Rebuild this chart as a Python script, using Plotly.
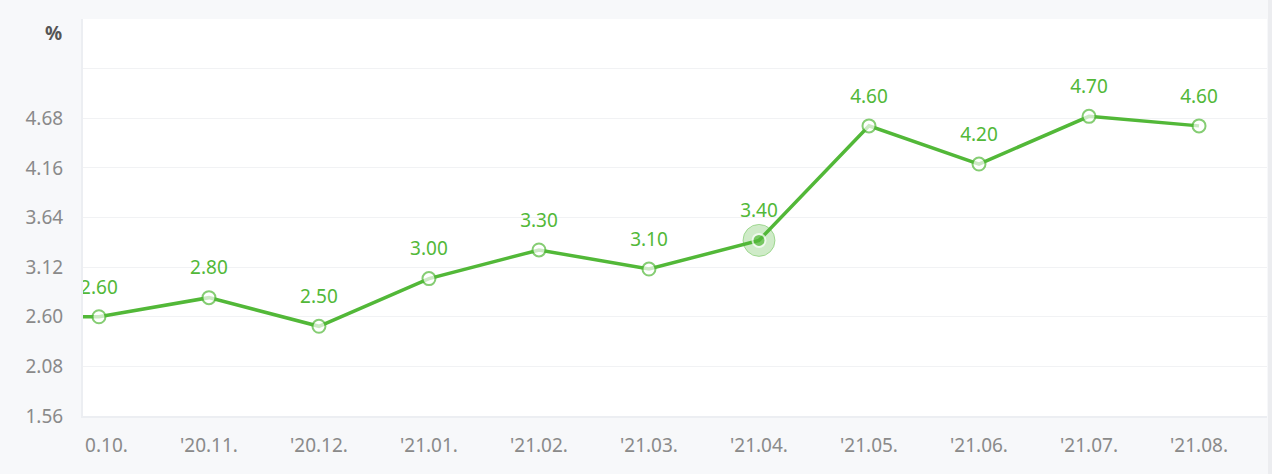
import plotly.graph_objects as go

# ---- data ----
months = ["'20.09.", "'20.10.", "'20.11.", "'20.12.", "'21.01.", "'21.02.",
          "'21.03.", "'21.04.", "'21.05.", "'21.06.", "'21.07.", "'21.08."]
rates = [2.60, 2.60, 2.80, 2.50, 3.00, 3.30, 3.10, 3.40, 4.60, 4.20, 4.70, 4.60]
y_tick_vals = [1.56, 2.08, 2.60, 3.12, 3.64, 4.16, 4.68, 5.20, 5.72]
y_tick_text = ["1.56", "2.08", "2.60", "3.12", "3.64", "4.16", "4.68", "", ""]
highlight = "'21.04."
unit_label = "%"

GREEN = "#52b838"
FONT = "Noto Sans"
FS = 19

hi_idx = months.index(highlight)
marker_fill = ["white"] * len(months)
marker_edge = [GREEN] * len(months)
marker_size = [13] * len(months)
marker_fill[hi_idx] = GREEN
marker_edge[hi_idx] = "white"
marker_size[hi_idx] = 13

fig = go.Figure()

# halo around highlighted point
fig.add_trace(go.Scatter(
    x=[months[hi_idx]], y=[rates[hi_idx]], mode="markers",
    marker=dict(size=32, color="rgba(82,184,56,0.28)",
                line=dict(color="rgba(82,184,56,0.45)", width=1)),
    hoverinfo="skip", showlegend=False))

# main line with markers
fig.add_trace(go.Scatter(
    x=months, y=rates, mode="lines+markers",
    line=dict(color=GREEN, width=3.5),
    marker=dict(size=marker_size, color=marker_fill,
                line=dict(color=marker_edge, width=2)),
    showlegend=False))

# value labels (skip the off-screen first point)
fig.add_trace(go.Scatter(
    x=months[1:], y=rates[1:], mode="markers+text",
    text=[f"{v:.2f}" for v in rates[1:]], textposition="top center",
    textfont=dict(family=FONT, size=FS, color=GREEN),
    marker=dict(size=28, color="rgba(0,0,0,0)"),
    hoverinfo="skip", showlegend=False, cliponaxis=True))

fig.update_layout(
    width=1272, height=474,
    margin=dict(l=83, r=5, t=19, b=58),
    paper_bgcolor="#f7f8fa", plot_bgcolor="white",
    font=dict(family=FONT, size=FS, color="#8a8a8a"),
    xaxis=dict(type="category", categoryorder="array", categoryarray=months,
               range=[0.855, 11.618],
               showgrid=False, zeroline=False,
               showline=True, linecolor="#eceef2", linewidth=2,
               ticks="", ticklabelstandoff=11,
               tickfont=dict(family=FONT, size=FS, color="#8a8a8a")),
    yaxis=dict(range=[1.56, 5.72], tickvals=y_tick_vals, ticktext=y_tick_text,
               showgrid=True, gridcolor="#f1f2f4", gridwidth=1,
               zeroline=False, showline=True, linecolor="#eceef2", linewidth=2,
               ticks="", ticklabelstandoff=14,
               tickfont=dict(family=FONT, size=FS, color="#8a8a8a")),
    hovermode=False,
)

W = 1272 - 83 - 5
H = 474 - 19 - 58
# cover the part of the first x label that falls left of the scroll area
fig.add_shape(type="rect", xref="paper", yref="paper",
              x0=(55 - 83) / W, x1=(85 - 83) / W,
              y0=(416 - 474) / H, y1=(416 - 424) / H,
              fillcolor="#f7f8fa", line=dict(width=0), layer="above")
# right scrollbar strip
fig.add_shape(type="rect", xref="paper", yref="paper",
              x0=(1268 - 83) / W, x1=(1273 - 83) / W,
              y0=(416 - 480) / H, y1=(416 + 10) / H,
              fillcolor="#ecedf0", line=dict(width=0), layer="above")

# unit label
fig.add_annotation(text=unit_label, xref="paper", yref="paper",
                   x=(64 - 83) / W, y=(416 - 33) / H, xanchor="right", yanchor="middle",
                   showarrow=False,
                   font=dict(family=FONT, size=FS, color="#555555", weight="bold"))

fig.write_html("out.html", config={"displayModeBar": False},
               post_script="document.body.style.margin='0';")
